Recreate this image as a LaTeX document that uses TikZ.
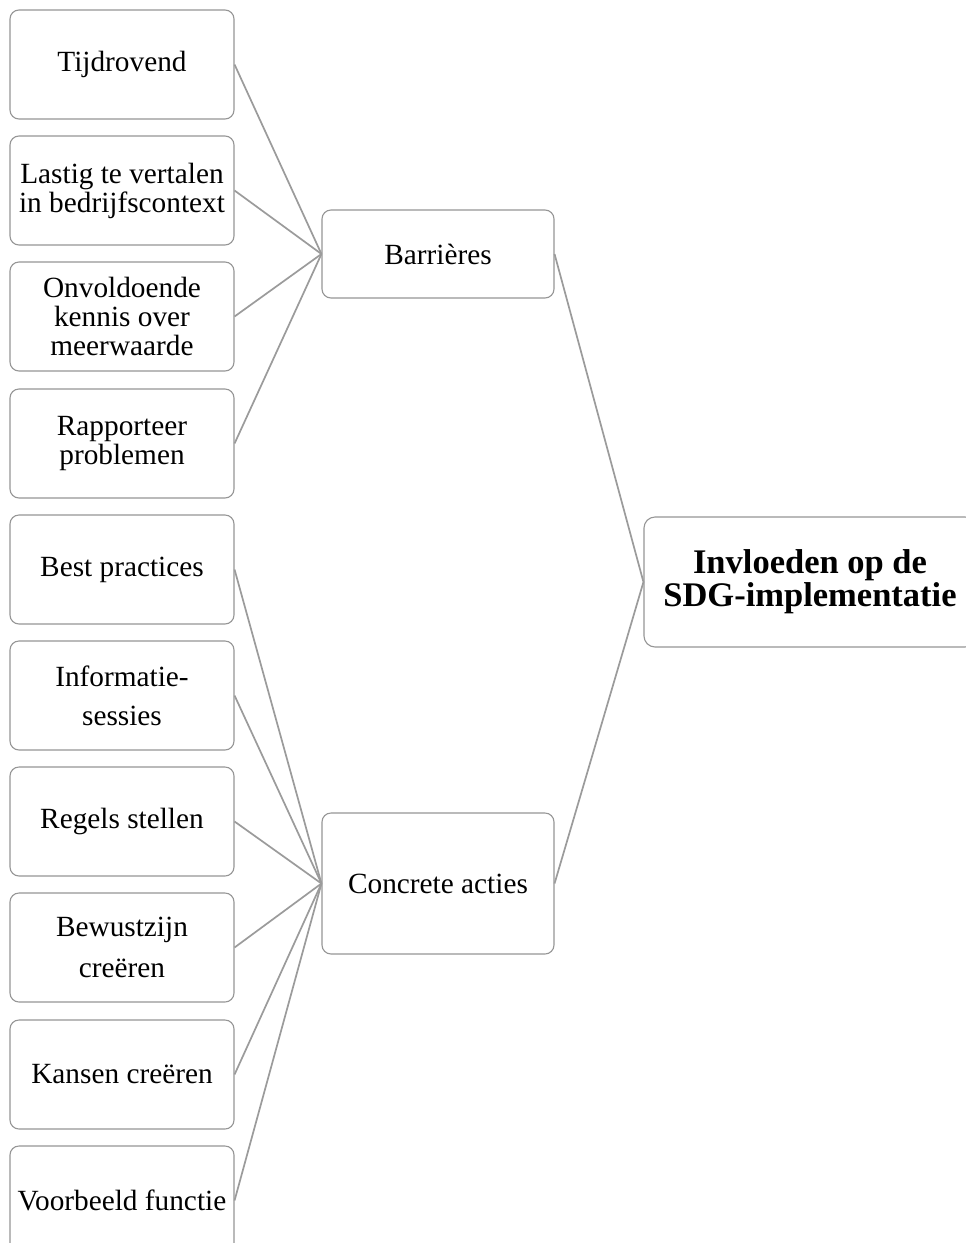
\documentclass[tikz,border=0pt]{standalone}
\usepackage{fontspec}
\setmainfont{Liberation Serif}
\definecolor{boxgray}{RGB}{150,150,150}
\definecolor{linegray}{RGB}{155,155,155}
\begin{document}
\begin{tikzpicture}[x=1pt,y=-1pt,
  leafbox/.style={draw=boxgray,line width=1.1pt,rounded corners=9pt,fill=white,
    minimum width=224pt,minimum height=109pt,inner sep=0pt,align=center,
    font=\fontsize{29.3}{29}\selectfont},
  midbox/.style={draw=boxgray,line width=1.1pt,rounded corners=9pt,fill=white,
    minimum width=232pt,inner sep=0pt,align=center,
    font=\fontsize{29.3}{29}\selectfont},
  rootbox/.style={draw=boxgray,line width=1.1pt,rounded corners=11pt,fill=white,
    minimum width=332pt,minimum height=130pt,inner sep=0pt,align=center,
    font=\fontsize{34.5}{33}\selectfont\bfseries},
  conn/.style={draw=linegray,line width=1.7pt}]
\useasboundingbox (0,0) rectangle (966,1243);
\clip (0,0) rectangle (966,1243);
\fill[white] (0,0) rectangle (966,1243);

\node[leafbox] (l1) at (122,64.5) {Tijdrovend};
\node[leafbox] (l2) at (122,190.5) {Lastig te vertalen\\in bedrijfscontext};
\node[leafbox] (l3) at (122,316.5) {Onvoldoende\\kennis over\\meerwaarde};
\node[leafbox] (l4) at (122,443.5) {Rapporteer\\problemen};
\node[leafbox] (l5) at (122,569.5) {Best practices};
\node[leafbox] (l6) at (122,695.5) {Informatie-\\[10pt]sessies};
\node[leafbox] (l7) at (122,821.5) {Regels stellen};
\node[leafbox] (l8) at (122,947.5) {Bewustzijn\\[12pt]creëren};
\node[leafbox] (l9) at (122,1074.5) {Kansen creëren};
\node[leafbox] (l10) at (122,1200.5) {Voorbeeld functie};

\node[midbox,minimum height=88pt] (bar) at (438,254) {Barrières};
\node[midbox,minimum height=141pt] (con) at (438,883.5) {Concrete acties};
\node[rootbox] (root) at (810,582) {Invloeden op de\\SDG-implementatie};

\foreach \n in {l1,l2,l3,l4} \draw[conn] (\n.east) -- (bar.west);
\foreach \n in {l5,l6,l7,l8,l9,l10} \draw[conn] (\n.east) -- (con.west);
\draw[conn] (bar.east) -- (root.west);
\draw[conn] (con.east) -- (root.west);
\end{tikzpicture}
\end{document}
